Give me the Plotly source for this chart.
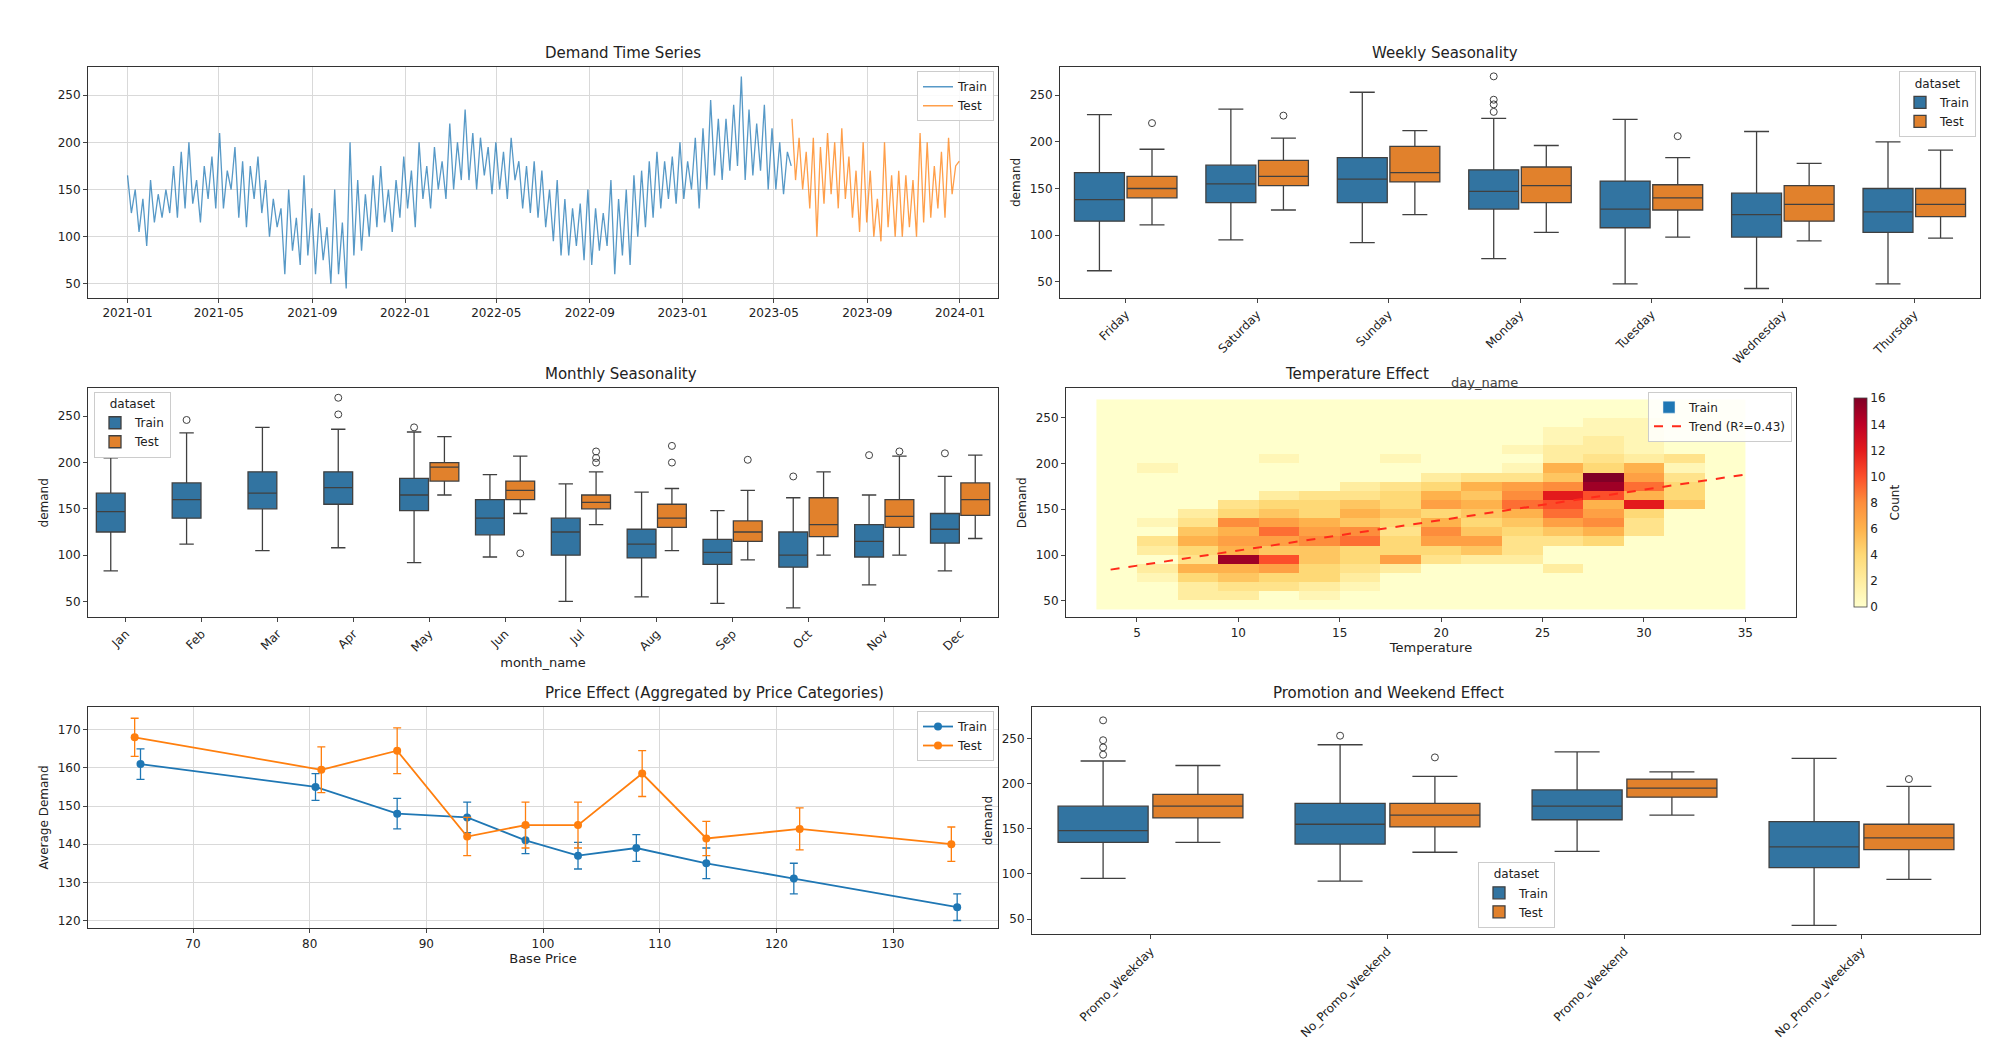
import plotly.graph_objects as go
import pandas as pd
import numpy as np

# ---------------- data ----------------
train_vals = [165,125,150,105,140,90, 160,115,145,120,150,125, 175,120,190,130,200,135,
              160,115,175,140,185,130, 210,130,170,150,195,120, 180,110,175,140,185,125,
              160,100,140,110,130,60, 150,85,120,70,165,80, 130,60,125,75,110,50,
              150,60,115,45,200,80, 160,85,145,100,165,110, 175,115,150,105,160,120,
              185,130,170,110,200,140, 175,130,195,150,180,140, 220,150,200,160,235,160,
              210,150,205,165,195,145, 200,150,190,140,205,160, 180,130,175,125,180,120,
              170,110,150,95,160,80, 140,80,130,90,135,75, 150,70,130,85,125,90,
              160,60,140,80,150,70, 165,100,170,110,180,120, 190,130,180,140,185,135,
              200,140,180,150,205,130, 215,150,245,165,225,160, 225,170,240,175,270,160,
              235,165,220,170,240,150, 215,150,200,145,190,175]
test_vals = [225,160,205,150,190,130, 205,100,195,135,210,145, 200,130,215,140,185,120,
             170,105,200,115,170,100, 140,95,200,110,165,100, 170,100,165,110,160,100,
             210,115,200,120,175,130, 190,120,205,145,175,180]
train_dates = pd.date_range("2021-01-01", "2023-05-24", periods=len(train_vals))
test_dates = pd.date_range("2023-05-25", "2023-12-31", periods=len(test_vals))

days = ["Friday","Saturday","Sunday","Monday","Tuesday","Wednesday","Thursday"]
wk_train = dict(lf=[62,95,92,75,48,43,48], q1=[115,135,135,128,108,98,103], med=[138,155,160,147,128,122,125],
                q3=[167,175,183,170,158,145,150], uf=[229,235,253,225,224,211,200])
wk_test = dict(lf=[111,127,122,103,98,94,97], q1=[140,153,157,135,127,115,120], med=[150,163,167,153,140,133,133],
               q3=[163,180,195,173,154,153,150], uf=[192,204,212,196,183,177,191])
wk_out_train = [("Monday",232),("Monday",240),("Monday",245),("Monday",270)]
wk_out_test = [("Friday",220),("Saturday",228),("Tuesday",206)]

months = ["Jan","Feb","Mar","Apr","May","Jun","Jul","Aug","Sep","Oct","Nov","Dec"]
mo_train = dict(lf=[83,112,105,108,92,98,50,55,48,43,68,83], q1=[125,140,150,155,148,122,100,97,90,87,98,113],
                med=[147,160,167,173,165,140,125,112,103,100,115,128], q3=[167,178,190,190,183,160,140,128,117,125,133,145],
                uf=[205,232,238,236,233,187,177,168,148,162,165,185])
mo_test_months = ["May","Jun","Jul","Aug","Sep","Oct","Nov","Dec"]
mo_test = dict(lf=[165,145,133,105,95,100,100,118], q1=[180,160,150,130,115,120,130,143],
               med=[195,170,157,140,125,133,142,160], q3=[200,180,165,155,137,162,160,178],
               uf=[228,207,190,172,170,190,207,208])
mo_out_train = [("Feb",246),("Apr",252),("Apr",270),("May",238),("Oct",185),("Nov",208),("Dec",210)]
mo_out_test = [("Jun",102),("Jul",200),("Jul",205),("Jul",212),("Aug",200),("Aug",218),("Sep",203),("Nov",212)]

price_train_x = [65.5,80.5,87.5,93.5,98.5,103,108,114,121.5,135.5]
price_train_y = [161,155,148,147,141,137,139,135,131,123.5]
price_train_e = [4,3.5,4,4,3.5,3.5,3.5,4,4,3.5]
price_test_x = [65,81,87.5,93.5,98.5,103,108.5,114,122,135]
price_test_y = [168,159.5,164.5,142,145,145,158.5,141.5,144,140]
price_test_e = [5,6,6,5,6,6,6,4.5,5.5,4.5]

promo_cats = ["Promo_Weekday","No_Promo_Weekend","Promo_Weekend","No_Promo_Weekday"]
pr_train = dict(lf=[95,92,125,43], q1=[135,133,160,107], med=[148,155,175,130], q3=[175,178,193,158], uf=[225,243,235,228])
pr_test = dict(lf=[135,124,165,94], q1=[162,152,185,127], med=[175,165,195,140], q3=[188,178,205,155], uf=[220,208,213,197])
pr_out_train = [("Promo_Weekday",232),("Promo_Weekday",240),("Promo_Weekday",248),("Promo_Weekday",270),("No_Promo_Weekend",253)]
pr_out_test = [("No_Promo_Weekend",229),("No_Promo_Weekday",205)]

temp_bins = [4,6,8,10,12,14,16,18,20,22,24,26,28,30,32,34]
demand_bins = [45,55,65,75,85,95,105,115,125,135,145,155,165,175,185,195,205,215,225,235,245,255,265]
counts = [
 [0,0,0,0,0,0,0,0,0,0,0,0,0,0,0,0],
 [0,0,2,2,0,1,0,0,0,0,0,0,0,0,0,0],
 [0,0,2,3,3,2,1,0,0,0,0,0,0,0,0,0],
 [0,1,4,5,4,4,2,0,0,0,0,0,0,0,0,0],
 [0,2,6,6,7,4,3,2,0,0,0,2,0,0,0,0],
 [0,0,3,15,10,5,4,7,3,2,2,0,0,0,0,0],
 [0,2,4,6,5,5,4,4,4,5,3,0,0,0,0,0],
 [0,3,6,7,7,8,9,4,7,7,3,3,4,0,0,0],
 [0,0,5,6,9,7,8,3,8,5,4,5,6,3,0,0],
 [0,1,3,8,7,6,5,4,6,4,5,7,8,3,0,0],
 [0,0,2,4,5,4,6,5,4,5,6,9,7,4,0,0],
 [0,0,0,3,4,4,5,4,7,6,9,10,6,12,5,0],
 [0,0,0,0,2,3,3,4,6,5,8,12,10,6,4,0],
 [0,0,0,0,0,0,2,3,4,6,7,8,15,9,4,0],
 [0,0,0,0,0,0,0,0,2,3,3,5,16,7,3,0],
 [0,1,0,0,0,0,0,0,0,0,1,6,4,6,1,0],
 [0,0,0,0,1,0,0,1,0,0,0,2,3,2,3,0],
 [0,0,0,0,0,0,0,0,0,0,1,2,2,1,0,0],
 [0,0,0,0,0,0,0,0,0,0,0,1,2,1,0,0],
 [0,0,0,0,0,0,0,0,0,0,0,1,1,1,0,0],
 [0,0,0,0,0,0,0,0,0,0,0,0,1,1,0,0],
 [0,0,0,0,0,0,0,0,0,0,0,0,0,0,0,0],
 [0,0,0,0,0,0,0,0,0,0,0,0,0,0,0,0]]
trend_x = [3.7, 35.3]
trend_y = [84, 189]

# ---------------- style ----------------
BLUE_L, ORANGE_L = "#1f77b4", "#ff7f0e"
BLUE_B, ORANGE_B = "#3274a1", "#e1812c"
FONT = "DejaVu Sans"
fig = go.Figure()

def add_boxes(cats, stats, offs, color, xa, ya, name, legend, show):
    pos = [i + offs for i in range(len(cats))]
    fig.add_trace(go.Box(x=pos, q1=stats["q1"], median=stats["med"], q3=stats["q3"],
                         lowerfence=stats["lf"], upperfence=stats["uf"], width=0.38,
                         fillcolor=color, line=dict(color="#404040", width=1.3),
                         xaxis=xa, yaxis=ya, name=name, legend=legend, showlegend=show,
                         hoverinfo="skip"))

def add_out(allcats, outs, offs, xa, ya):
    if not outs: return
    fig.add_trace(go.Scatter(x=[allcats.index(c) + offs for c, _ in outs], y=[v for _, v in outs],
                             mode="markers", marker=dict(symbol="circle-open", size=7, color="#404040"),
                             xaxis=xa, yaxis=ya, showlegend=False, hoverinfo="skip"))

# 1. time series
fig.add_trace(go.Scatter(x=train_dates, y=train_vals, mode="lines", line=dict(color=BLUE_L, width=1.3),
                         opacity=0.75, name="Train", xaxis="x", yaxis="y", legend="legend"))
fig.add_trace(go.Scatter(x=test_dates, y=test_vals, mode="lines", line=dict(color=ORANGE_L, width=1.3),
                         opacity=0.75, name="Test", xaxis="x", yaxis="y", legend="legend"))

# 2. weekly
add_boxes(days, wk_train, -0.2, BLUE_B, "x2", "y2", "Train", "legend2", True)
add_boxes(days, wk_test, 0.2, ORANGE_B, "x2", "y2", "Test", "legend2", True)
add_out(days, wk_out_train, -0.2, "x2", "y2")
add_out(days, wk_out_test, 0.2, "x2", "y2")

# 3. monthly
add_boxes(months, mo_train, -0.2, BLUE_B, "x3", "y3", "Train", "legend3", True)
pos_t = [months.index(m) + 0.2 for m in mo_test_months]
fig.add_trace(go.Box(x=pos_t, q1=mo_test["q1"], median=mo_test["med"], q3=mo_test["q3"],
                     lowerfence=mo_test["lf"], upperfence=mo_test["uf"], width=0.38,
                     fillcolor=ORANGE_B, line=dict(color="#404040", width=1.3),
                     xaxis="x3", yaxis="y3", name="Test", legend="legend3", hoverinfo="skip"))
add_out(months, mo_out_train, -0.2, "x3", "y3")
add_out(months, mo_out_test, 0.2, "x3", "y3")

# 4. temperature
cs = [[0,'#ffffcc'],[0.125,'#ffeda0'],[0.25,'#fed976'],[0.375,'#feb24c'],[0.5,'#fd8d3c'],
      [0.625,'#fc4e2a'],[0.75,'#e31a1c'],[0.875,'#bd0026'],[1,'#800026']]
fig.add_trace(go.Heatmap(x=temp_bins, y=demand_bins, z=counts, colorscale=cs, zmin=0, zmax=16,
                         xaxis="x4", yaxis="y4", showscale=True, zsmooth=False,
                         colorbar=dict(x=0.918, xanchor="left", y=0.422, yanchor="bottom", len=0.217,
                                       lenmode="fraction", thickness=13, outlinewidth=0.8,
                                       tickvals=[0,2,4,6,8,10,12,14,16], tickfont=dict(size=12),
                                       title=dict(text="Count", side="right", font=dict(size=12)))))
fig.add_trace(go.Bar(x=[None], y=[None], marker_color=BLUE_L, name="Train", xaxis="x4", yaxis="y4", legend="legend4"))
fig.add_trace(go.Scatter(x=trend_x, y=trend_y, mode="lines", line=dict(color="#ff2a1a", width=2, dash="dash"),
                         name="Trend (R²=0.43)", xaxis="x4", yaxis="y4", legend="legend4"))

# 5. price
fig.add_trace(go.Scatter(x=price_train_x, y=price_train_y, mode="lines+markers", name="Train",
                         error_y=dict(array=price_train_e, color=BLUE_L, thickness=1.3, width=4),
                         line=dict(color=BLUE_L, width=1.8), marker=dict(size=8, color=BLUE_L),
                         xaxis="x5", yaxis="y5", legend="legend5"))
fig.add_trace(go.Scatter(x=price_test_x, y=price_test_y, mode="lines+markers", name="Test",
                         error_y=dict(array=price_test_e, color=ORANGE_L, thickness=1.3, width=4),
                         line=dict(color=ORANGE_L, width=1.8), marker=dict(size=8, color=ORANGE_L),
                         xaxis="x5", yaxis="y5", legend="legend5"))

# 6. promo
add_boxes(promo_cats, pr_train, -0.2, BLUE_B, "x6", "y6", "Train", "legend6", True)
add_boxes(promo_cats, pr_test, 0.2, ORANGE_B, "x6", "y6", "Test", "legend6", True)
add_out(promo_cats, pr_out_train, -0.2, "x6", "y6")
add_out(promo_cats, pr_out_test, 0.2, "x6", "y6")

# ---------------- layout ----------------
ax = dict(showline=True, mirror=True, linecolor="#333", linewidth=1, ticks="outside", ticklen=4,
          tickfont=dict(size=12, color="#222"), zeroline=False, showgrid=False)
def axis(**kw):
    d = dict(ax); d.update(kw); return d

leg = dict(bgcolor="rgba(255,255,255,0.85)", bordercolor="#ccc", borderwidth=1, font=dict(size=12))
def legend(x, y, xa="right", ya="top", title=None):
    d = dict(leg); d.update(x=x, y=y, xanchor=xa, yanchor=ya)
    if title: d["title"] = dict(text=title, side="top center", font=dict(size=12))
    return d

yr = [0.725, 0.944]; yr2 = [0.422, 0.639]; yr3 = [0.127, 0.337]
fig.update_layout(
    width=2000, height=1054, paper_bgcolor="white", plot_bgcolor="white",
    font=dict(family=FONT, color="#222"), boxmode="overlay", margin=dict(l=0, r=0, t=0, b=0),
    xaxis=axis(domain=[0.040, 0.495], anchor="y", type="date", tickformat="%Y-%m", dtick="M4",
               tick0="2021-01-01", showgrid=True, gridcolor="#d9d9d9", range=["2020-11-10", "2024-02-20"]),
    yaxis=axis(domain=yr, anchor="x", range=[35, 280], tickvals=[50,100,150,200,250], showgrid=True, gridcolor="#d9d9d9"),
    xaxis2=axis(domain=[0.526, 0.986], anchor="y2", range=[-0.5, 6.5], tickvals=list(range(7)), ticktext=days, tickangle=-45),
    yaxis2=axis(domain=yr, anchor="x2", range=[33, 280], tickvals=[50,100,150,200,250], title=dict(text="demand", font=dict(size=12), standoff=6)),
    xaxis3=axis(domain=[0.040, 0.495], anchor="y3", range=[-0.5, 11.5], tickvals=list(range(12)), ticktext=months, tickangle=-45,
                title=dict(text="month_name", font=dict(size=13), standoff=4)),
    yaxis3=axis(domain=yr2, anchor="x3", range=[33, 280], tickvals=[50,100,150,200,250], title=dict(text="demand", font=dict(size=12), standoff=6)),
    xaxis4=axis(domain=[0.529, 0.894], anchor="y4", range=[1.5, 37.5], tickvals=[5,10,15,20,25,30,35],
                title=dict(text="Temperature", font=dict(size=13), standoff=4)),
    yaxis4=axis(domain=yr2, anchor="x4", range=[32, 282], tickvals=[50,100,150,200,250], title=dict(text="Demand", font=dict(size=12), standoff=6)),
    xaxis5=axis(domain=[0.040, 0.495], anchor="y5", range=[61, 139], tickvals=[70,80,90,100,110,120,130],
                showgrid=True, gridcolor="#d9d9d9", title=dict(text="Base Price", font=dict(size=13), standoff=4)),
    yaxis5=axis(domain=yr3, anchor="x5", range=[118, 176], tickvals=[120,130,140,150,160,170], showgrid=True, gridcolor="#d9d9d9",
                title=dict(text="Average Demand", font=dict(size=12), standoff=6)),
    xaxis6=axis(domain=[0.512, 0.986], anchor="y6", range=[-0.5, 3.5], tickvals=list(range(4)), ticktext=promo_cats, tickangle=-45),
    yaxis6=axis(domain=[0.121, 0.337], anchor="x6", range=[33, 285], tickvals=[50,100,150,200,250], title=dict(text="demand", font=dict(size=12), standoff=6)),
    legend=legend(0.493, 0.940),
    legend2=legend(0.984, 0.940, title="dataset"),
    legend3=legend(0.043, 0.636, xa="left", title="dataset"),
    legend4=legend(0.892, 0.636),
    legend5=legend(0.493, 0.333),
    legend6=legend(0.735, 0.190, xa="left", title="dataset"),
)
titles = [("Demand Time Series", 0.2675, 0.944), ("Weekly Seasonality", 0.756, 0.944),
          ("Monthly Seasonality", 0.2675, 0.639), ("Temperature Effect", 0.7115, 0.639),
          ("Price Effect (Aggregated by Price Categories)", 0.2675, 0.337), ("Promotion and Weekend Effect", 0.749, 0.337)]
for t, x, y in titles:
    fig.add_annotation(text=t, x=x, y=y, xref="paper", yref="paper", yanchor="bottom", showarrow=False,
                       font=dict(size=15, color="#222"), yshift=3)
fig.add_annotation(text="day_name", x=0.756, y=0.636, xref="paper", yref="paper", yanchor="bottom",
                   showarrow=False, font=dict(size=13, color="#444"))
fig.write_html("out.html")
